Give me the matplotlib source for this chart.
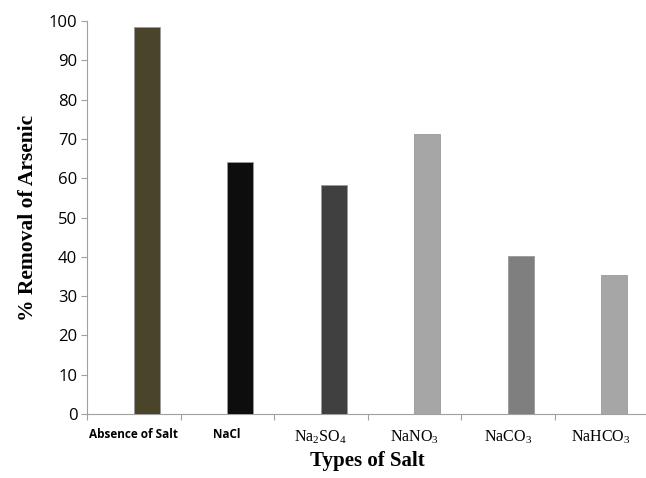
import matplotlib
matplotlib.use("Agg")
import matplotlib.pyplot as plt
import numpy as np

# data
salts = ['Absence of Salt', 'NaCl', r'Na$_\mathregular{2}$SO$_\mathregular{4}$',
         r'NaNO$_\mathregular{3}$', r'NaCO$_\mathregular{3}$', r'NaHCO$_\mathregular{3}$']
removal = [98.5, 64.2, 58.2, 71.3, 40.2, 35.3]
colors = ['#4a452a', '#0d0d0d', '#404040', '#a6a6a6', '#7f7f7f', '#a6a6a6']

fig = plt.figure(figsize=(6.46, 4.78), dpi=100)
ax = fig.add_axes([87 / 646, 64 / 478, 561 / 646, 393 / 478])

x = np.arange(len(salts))
ax.bar(x + 0.14, removal, width=0.28, color=colors, edgecolor='#9a9a9a', linewidth=0.6, zorder=3)

ax.set_xlim(-0.5, len(salts) - 0.5)
ax.set_ylim(0, 100)
ax.set_yticks(np.arange(0, 101, 10))

# category boundaries carry the tick marks, labels sit in the middle
ax.set_xticks(np.arange(-0.5, len(salts)), minor=False)
ax.set_xticklabels([])
ax.set_xticks(x, minor=True)
ax.set_xticklabels(salts, minor=True)
ax.tick_params(axis='x', which='minor', length=0, pad=10)
ax.tick_params(axis='x', which='major', length=4, color='#a0a0a0', width=0.8)
ax.tick_params(axis='y', length=4, color='#a0a0a0', width=0.8, pad=3,
               labelsize=12)
for lab in ax.get_yticklabels():
    lab.set_fontfamily('Open Sans')

for i, lab in enumerate(ax.get_xticklabels(minor=True)):
    if i < 2:
        lab.set_fontfamily('Open Sans')
        lab.set_fontweight('bold')
        lab.set_fontsize(8.5)
    else:
        lab.set_fontfamily('Liberation Serif')
        lab.set_fontsize(11.5)

for side in ['top', 'right']:
    ax.spines[side].set_visible(False)
for side in ['left', 'bottom']:
    ax.spines[side].set_color('#a0a0a0')
    ax.spines[side].set_linewidth(0.8)

ax.set_xlabel('Types of Salt', fontfamily='Liberation Serif', fontweight='bold',
              fontsize=15, labelpad=4)
ax.set_ylabel('% Removal of Arsenic', fontfamily='Liberation Serif', fontweight='bold',
              fontsize=15.5, labelpad=8)

fig.savefig('out.png', dpi=100)
